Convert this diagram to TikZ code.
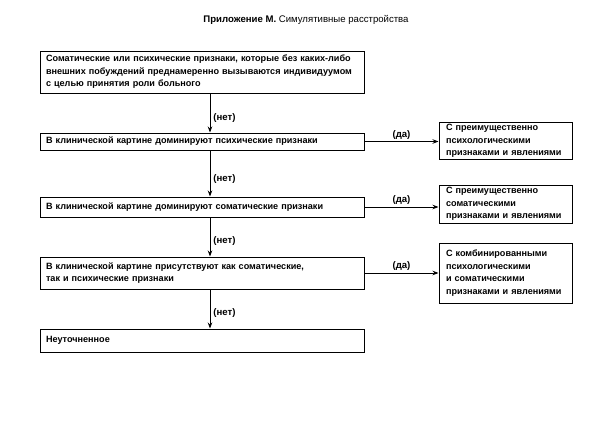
\documentclass[tikz,border=0pt]{standalone}
\usepackage{fontspec}
\setmainfont{Liberation Sans}
\usetikzlibrary{arrows.meta}
\begin{document}
\begin{tikzpicture}[x=1pt,y=-1pt,
  box/.style={draw,line width=1pt,rectangle,inner xsep=6pt,inner ysep=2pt,align=left,
    font=\fontsize{9.1}{12.5}\selectfont\bfseries},
  mainbox/.style={box,text width=312pt,minimum width=324pt},
  sidebox/.style={box,inner xsep=7pt,text width=119pt,minimum width=133pt},
  conn/.style={line width=0.9pt,-{Stealth[length=6pt,width=4.5pt]}},
  lab/.style={font=\fontsize{9.6}{10}\selectfont\bfseries,inner sep=1pt}]
\useasboundingbox (0,0) rectangle (615,447);
\node (title) at (306,20) {\fontsize{9.6}{11}\selectfont\textbf{Приложение М.} Симулятивные расстройства};
\node[mainbox,minimum height=42pt] (b1) at (202,72) {\mbox{Соматические или психические признаки, которые без каких-либо}\\\mbox{внешних побуждений преднамеренно вызываются индивидуумом}\\с целью принятия роли больного};
\node[mainbox,minimum height=17pt] (b2) at (202,141.5) {В клинической картине доминируют психические признаки};
\node[mainbox,minimum height=20pt] (b3) at (202,207) {В клинической картине доминируют соматические признаки};
\node[mainbox,minimum height=32pt] (b4) at (202,273) {В клинической картине присутствуют как соматические,\\так и психические признаки};
\node[mainbox,minimum height=23pt] (b5) at (202,340.5) {Неуточненное};
\node[sidebox,minimum height=36pt] (r1) at (505.5,141) {С преимущественно\\психологическими\\признаками и явлениями};
\node[sidebox,minimum height=38pt] (r2) at (505.5,204) {С преимущественно\\соматическими\\признаками и явлениями};
\node[sidebox,minimum height=60pt] (r3) at (505.5,273) {С комбинированными\\психологическими\\и соматическими\\признаками и явлениями};
\coordinate (vx) at (210,0);
\draw[conn] (b1.south -| vx) -- node[lab,right=2pt,pos=0.62] {(нет)} (b2.north -| vx);
\draw[conn] (b2.south -| vx) -- node[lab,right=2pt,pos=0.62] {(нет)} (b3.north -| vx);
\draw[conn] (b3.south -| vx) -- node[lab,right=2pt,pos=0.6] {(нет)} (b4.north -| vx);
\draw[conn] (b4.south -| vx) -- node[lab,right=2pt,pos=0.6] {(нет)} (b5.north -| vx);
\draw[conn] (b2.east) -- node[lab,above=1pt] {(да)} (b2.east -| r1.west);
\draw[conn] (b3.east) -- node[lab,above=1pt] {(да)} (b3.east -| r2.west);
\draw[conn] (b4.east) -- node[lab,above=1pt] {(да)} (b4.east -| r3.west);
\end{tikzpicture}
\end{document}
